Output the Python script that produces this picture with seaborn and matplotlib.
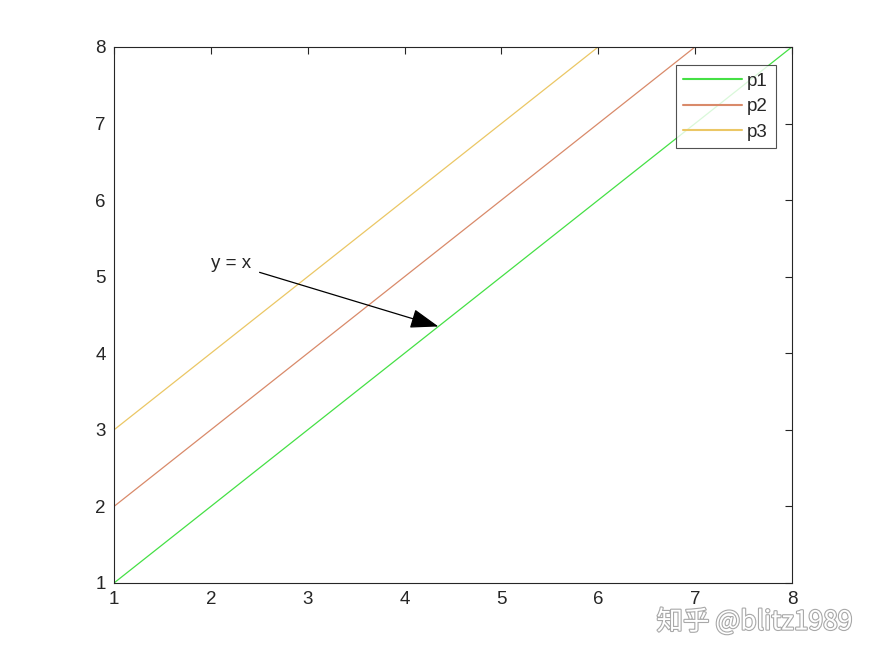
import numpy as np
import pandas as pd
import seaborn as sns
import matplotlib.pyplot as plt
import matplotlib.patheffects as pe

# data
x_vals = [1, 2, 3, 4, 5, 6, 7, 8]
p1 = [1, 2, 3, 4, 5, 6, 7, 8]
p2 = [2, 3, 4, 5, 6, 7, 8, 9]
p3 = [3, 4, 5, 6, 7, 8, 9, 10]
series_names = ["p1", "p2", "p3"]
ticks = [1, 2, 3, 4, 5, 6, 7, 8]

df = pd.DataFrame({"x": x_vals * 3,
                   "y": p1 + p2 + p3,
                   "series": [n for n in series_names for _ in x_vals]})

sns.set_style("white")
plt.rcParams["font.family"] = ["Liberation Sans", "DejaVu Sans"]

fig = plt.figure(figsize=(8.75, 6.56), dpi=100)
ax = fig.add_axes([0.1303, 0.1113, 0.7747, 0.8171])

palette = {"p1": "#45e045", "p2": "#d98a6a", "p3": "#ebc765"}
sns.lineplot(data=df, x="x", y="y", hue="series", palette=palette,
             linewidth=0.9, ax=ax)

ax.set_xlim(1, 8)
ax.set_ylim(1, 8)
ax.set_xticks(ticks)
ax.set_yticks(ticks)
ax.set_xlabel("")
ax.set_ylabel("")
for s in ax.spines.values():
    s.set_color("#262626")
    s.set_linewidth(0.8)
ax.tick_params(direction="in", length=5, width=0.8, color="#262626",
               labelsize=13.5, labelcolor="#262626", top=True, right=True,
               pad=6)

leg = ax.legend(loc="upper right", bbox_to_anchor=(0.976, 0.966),
                frameon=True, fancybox=False, fontsize=13.5,
                borderpad=0.4, handlelength=3.1, handletextpad=0.3,
                labelspacing=0.45, borderaxespad=0)
leg.get_frame().set_edgecolor("#262626")
leg.get_frame().set_linewidth(0.8)
for line in leg.get_lines():
    line.set_linewidth(1.5)

ax.annotate("y = x", xy=(4.35, 4.35), xytext=(2.0, 5.17),
            fontsize=13.5, va="center", ha="left",
            arrowprops=dict(arrowstyle="-|>,head_length=1.3,head_width=0.45",
                            color="black", lw=0.9, shrinkA=4, shrinkB=0))

fig.text(0.974, 0.052, "知乎 @blitz1989", ha="right", va="center",
         fontsize=19, color="white",
         family=["Noto Sans CJK SC", "DejaVu Sans"],
         path_effects=[pe.withStroke(linewidth=1.6, foreground="#a8a8a8")])

fig.savefig("out.png", dpi=100)
